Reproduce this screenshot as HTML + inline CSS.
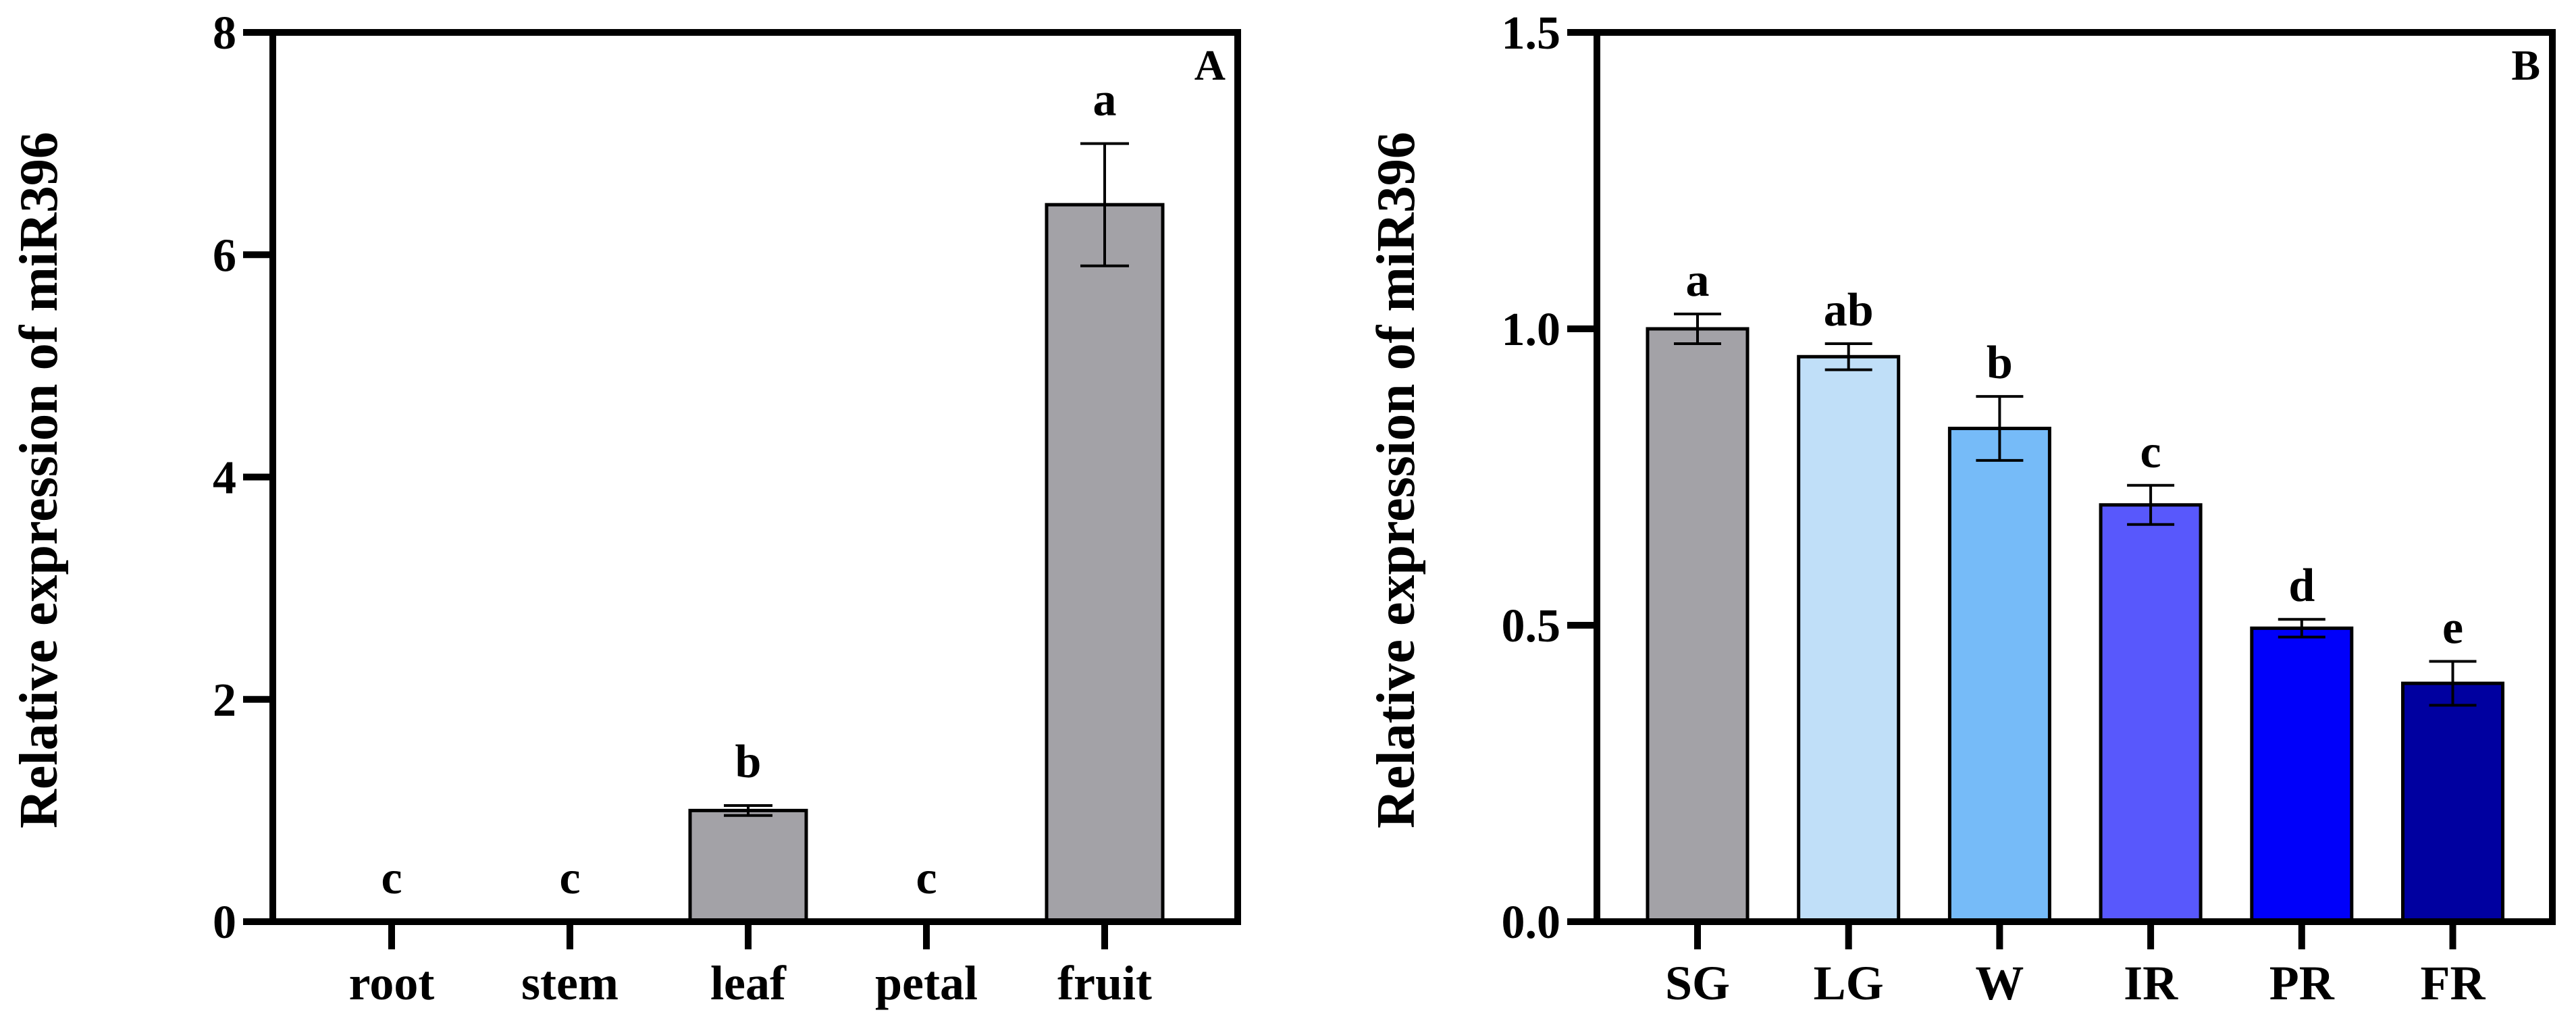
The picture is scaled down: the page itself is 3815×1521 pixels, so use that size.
<!DOCTYPE html>
<html><head><meta charset="utf-8"><style>
html,body{margin:0;padding:0;background:#fff;}
svg text{font-family:"Liberation Serif","DejaVu Serif","Times New Roman",serif;font-weight:700;}
</style></head><body>
<svg id="chart" width="3815" height="1516" viewBox="0 0 3815 1516" xmlns="http://www.w3.org/2000/svg"></svg>
<script>
const catsA = ["root","stem","leaf","petal","fruit"];
const valsA = [0,0,1.0,0,6.45];
const errsA = [0,0,0.045,0,0.55];
const letA = ["c","c","b","c","a"];
const ticksA = [0,2,4,6,8];
const catsB = ["SG","LG","W","IR","PR","FR"];
const valsB = [1.0,0.953,0.832,0.703,0.495,0.402];
const errsB = [0.025,0.022,0.054,0.033,0.015,0.037];
const letB = ["a","ab","b","c","d","e"];
const ticksB = ["0.0","0.5","1.0","1.5"];
const colorsB = ["#a3a2a7","#c0dff8","#76bbf8","#5858fc","#0000fa","#0000a0"];

const svg = document.getElementById('chart');
const NS = "http://www.w3.org/2000/svg";
const FONT = '"Liberation Serif", "DejaVu Serif", serif';
function mk(tag, attrs, parent){const e=document.createElementNS(NS,tag);for(const k in attrs)e.setAttribute(k,attrs[k]);if(tag==='text'){e.setAttribute('font-family',FONT);e.setAttribute('font-weight','bold');}(parent||svg).appendChild(e);return e;}

function panel(cfg){
  const g = mk('g',{});
  
  
  const {x0,x1,y0,y1,max,first,step,bw} = cfg;
  const ys = v => y0 - (v/max)*(y0-y1);
  const xs = i => first + i*step;
  cfg.ticks.forEach(t=>{
    const v = parseFloat(t); const y = ys(v);
    const tl = mk('line',{x1:x0-44,x2:x0,y1:y,y2:y,stroke:'#000','stroke-width':10},g);
    
    
    const tx = mk('text',{x:x0-54,y:y+24,'text-anchor':'end','font-size':70},g);
    tx.textContent = t;
    
    
  });
  cfg.cats.forEach((c,i)=>{
    const v = cfg.vals[i], e = cfg.errs[i], cx = xs(i);
    if(v>0){
      const r = mk('rect',{x:cx-bw/2,y:ys(v),width:bw,height:y0-ys(v),fill:cfg.colors[i],stroke:'#000','stroke-width':5},g);
      
      
    }
    if(e>0){
      const eg = mk('g',{stroke:'#000','stroke-width':4},g);
      
      
      mk('line',{x1:cx,x2:cx,y1:ys(v+e),y2:ys(v-e)},eg);
      mk('line',{x1:cx-cfg.cap,x2:cx+cfg.cap,y1:ys(v+e),y2:ys(v+e)},eg);
      mk('line',{x1:cx-cfg.cap,x2:cx+cfg.cap,y1:ys(v-e),y2:ys(v-e)},eg);
    }
    const lt = mk('text',{x:cx,y:ys(v+e)-cfg.gap,'text-anchor':'middle','font-size':70},g);
    lt.textContent = cfg.lets[i];
    
    
    const tk = mk('line',{x1:cx,x2:cx,y1:y0,y2:y0+41,stroke:'#000','stroke-width':10},g);
    
    
    const cl = mk('text',{x:cx,y:1480,'text-anchor':'middle','font-size':72},g);
    cl.textContent = c;
    
    
  });
  const fr = mk('rect',{x:x0,y:y1,width:x1-x0,height:y0-y1,fill:'none',stroke:'#000','stroke-width':10},g);
  
  
  const pl = mk('text',{x:x1-18,y:118,'text-anchor':'end','font-size':64},g);
  pl.textContent = cfg.label;
  
  
  const yt = mk('text',{x:0,y:0,'text-anchor':'middle','font-size':80,transform:`translate(${cfg.tx},711) rotate(-90)`},g);
  yt.textContent = 'Relative expression of miR396';
  
  
}

panel({name:'panel-a',label:'A',x0:404,x1:1833,y0:1365,y1:48,max:8,first:580,step:264,bw:172,cap:36,gap:42,
  cats:catsA,vals:valsA,errs:errsA,lets:letA,ticks:ticksA.map(String),colors:catsA.map(()=>'#a3a2a7'),tx:84});
panel({name:'panel-b',label:'B',x0:2365,x1:3780,y0:1365,y1:48,max:1.5,first:2514,step:223.7,bw:148,cap:35,gap:27,
  cats:catsB,vals:valsB,errs:errsB,lets:letB,ticks:ticksB,colors:colorsB,tx:2094});
</script>
</body></html>
